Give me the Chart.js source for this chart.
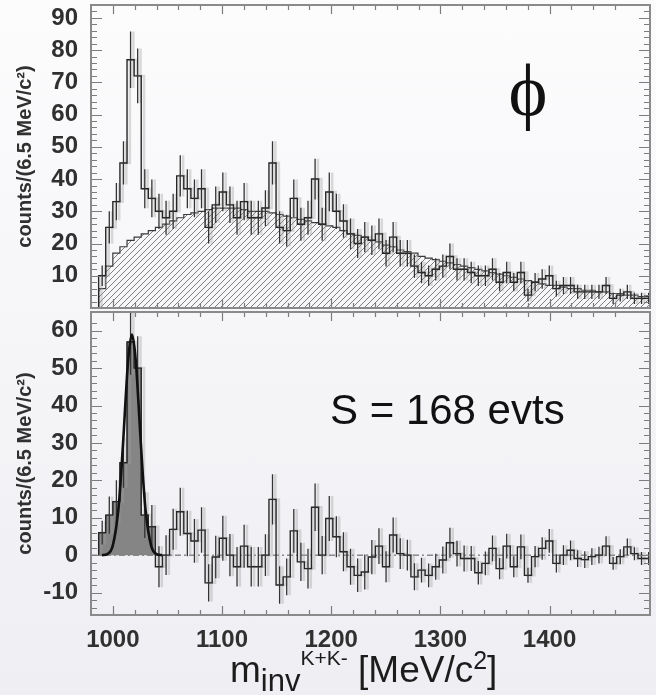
<!DOCTYPE html>
<html>
<head>
<meta charset="utf-8">
<title>K+K- invariant mass</title>
<script src="https://cdn.jsdelivr.net/npm/chart.js@4.4.1/dist/chart.umd.min.js"></script>
<style>
  html, body { margin: 0; padding: 0; }
  body { width: 656px; height: 695px; position: relative; overflow: hidden;
         background: linear-gradient(#fcfcfd 0%, #f4f4f7 60%, #eeeef3 100%); }
  canvas { position: absolute; left: 0; }
  #topChart { top: 0; }
  #botChart { top: 310px; }
  .txt { position: absolute; white-space: nowrap; color: #111; }
  #phi { left: 478px; width: 100px; text-align: center; top: 53px; font: 74px/74px "Liberation Serif", "DejaVu Serif", serif; }
  #sig { left: 330px; top: 389px; font: 42px/42px "Liberation Sans", Arial, sans-serif; }
  #xtitle { left: 230px; top: 651px; font: 37px/37px "Liberation Sans", Arial, sans-serif; color: #1c1c1c; }
  #xtitle .sub { position: relative; top: 9px; font-size: 31px; }
  #xtitle .sup { position: relative; top: -17px; font-size: 21px; }
  #xtitle .sq { position: relative; top: -13px; font-size: 25px; }
</style>
</head>
<body>
<canvas id="topChart" width="656" height="312"></canvas>
<canvas id="botChart" width="656" height="385"></canvas>
<div class="txt" id="phi">ϕ</div>
<div class="txt" id="sig">S = 168 evts</div>
<div class="txt" id="xtitle">m<span class="sub">inv</span><span class="sup">K+K-</span> [MeV/c<span class="sq">2</span>]</div>
<script>
// 6.5 MeV/c2 bins, first one at the K+K- threshold
var binStart = 987;
var binWidth = 6.5;
var xMin = 980, xMax = 1492;
var xTickValues = [1000, 1100, 1200, 1300, 1400];

// upper panel: all K+K- pairs
var countsAll = [10,25,33,45,77,72,37,34,30,28, 30,41,37,34,37,25,32,36,32,28,
                 33,28,28,31,45,25,24,34,26,28, 40,26,36,30,27,23,20,22,21,23,
                 17,22,17,17,13,11,10,12,13,16, 12,12,11,10,10,12,8,11,8,11,
                 4,8,9,10,6,7,7,5,5,5, 5,7,3,4,5,3,3,3];
// upper panel: background (hatched)
var countsBkg = [6,13,17,19,21,22,23,24,25,26, 27,28,29,29.5,30,30.5,31,31,31,31,
                 30.5,30,30,30,29.5,29,28.5,28,27.5,27, 26.5,26,25.5,25,24,23,22.5,22,21,20.5,
                 19.5,19,18,17.5,17,16,15.5,15,14.5,14, 13.5,13,12.5,12,11.5,11,10.5,10,9.5,9,
                 8.5,8,7.5,7,7,6.5,6,6,5.5,5.5, 5,5,4.5,4.5,4,4,3.5,3.5];
// lower panel: background subtracted
var countsSig = [6,10.7,14.3,24.7,57,50,10.7,7.6,-3.1,0, 6.9,11.6,5.8,3.8,6.7,-7.4,-0.5,4.5,0,-3.1,
                 2.4,-3.1,-3.1,0,14.9,-8,-5.8,6.5,-1.8,-3.6, 12.8,0,9.8,4.9,0.9,-3.1,-5.4,-4.5,-0.5,2.4,
                 -3.1,5.4,0.4,0,-5.8,-4,-5.4,-3.1,-1.3,3.3, 0.4,-0.9,-0.9,-4.7,-2.2,1.8,-3.6,2.4,-3.1,2.2,
                 -5.4,-0.4,1.8,3.8,-2.2,0,1.3,-0.9,-1.2,-0.4, 0,2.4,-2.2,-0.4,2.2,0.4,-0.9,-0.9];
var peakBins = 8; // shaded bins under the phi peak

// gaussian fit
var fitMass   = [990, 995, 1000, 1005, 1007.5, 1010, 1013, 1015, 1017.5, 1020, 1022, 1025, 1027.5, 1030, 1035, 1040, 1045];
var fitCounts = [0, 0.3, 2.6, 12, 21.3, 33, 48, 55, 59, 55, 48, 33, 21.3, 12, 2.6, 0.3, 0];

// poisson errors of the raw counts (both panels)
var errAll = countsAll.map(function (v) { return Math.sqrt(v); });

var ghostShift = 2.6; // the scan has a faint grey double image a bit to the right
var ghostColor = 'rgba(160,160,160,0.38)';

function histPts(vals, shift) {
  var pts = [{x: binStart + shift, y: 0}];
  vals.forEach(function (v, i) { pts.push({x: binStart + i * binWidth + shift, y: v}); });
  pts.push({x: binStart + vals.length * binWidth + shift, y: vals[vals.length - 1]});
  return pts;
}
function errPts(vals, errs, shift) {
  var pts = [];
  vals.forEach(function (v, i) {
    var xc = binStart + (i + 0.5) * binWidth + shift;
    pts.push({x: xc, y: v - errs[i]}, {x: xc, y: v + errs[i]}, {x: xc, y: null});
  });
  return pts;
}

function hatchPattern(ctx) {
  var c = document.createElement('canvas');
  c.width = 6; c.height = 6;
  var g = c.getContext('2d');
  g.strokeStyle = '#707070';
  g.lineWidth = 0.9;
  g.beginPath();
  g.moveTo(0, 6); g.lineTo(6, 0);
  g.moveTo(-1, 1); g.lineTo(1, -1);
  g.moveTo(5, 7); g.lineTo(7, 5);
  g.stroke();
  return ctx.createPattern(c, 'repeat');
}

// frame + inside tick marks like the ROOT plot
var frameTicks = {
  id: 'frameTicks',
  afterDraw: function (chart) {
    var ctx = chart.ctx, a = chart.chartArea, x = chart.scales.x, y = chart.scales.y;
    ctx.save();
    ctx.strokeStyle = '#7c7c7c';
    ctx.lineWidth = 1.2;
    ctx.beginPath();
    x.ticks.forEach(function (t) {
      if (t.value % 20 !== 0 || t.value <= xMin) return;
      var px = Math.round(x.getPixelForValue(t.value)) + 0.5;
      var len = t.value % 100 === 0 ? 9 : 5;
      ctx.moveTo(px, a.top); ctx.lineTo(px, a.top + len);
      ctx.moveTo(px, a.bottom); ctx.lineTo(px, a.bottom - len);
    });
    y.ticks.forEach(function (t) {
      if (t.value % 2 !== 0 || t.value <= y.min || t.value >= y.max) return;
      var py = Math.round(y.getPixelForValue(t.value)) + 0.5;
      var len = t.value % 10 === 0 ? 11 : 6;
      ctx.moveTo(a.left, py); ctx.lineTo(a.left + len, py);
      ctx.moveTo(a.right, py); ctx.lineTo(a.right - len, py);
    });
    ctx.stroke();
    ctx.strokeStyle = '#8a8a8a';
    ctx.lineWidth = 2;
    ctx.strokeRect(a.left, a.top, a.right - a.left, a.bottom - a.top);
    ctx.restore();
  }
};

var tickFont = {family: 'Liberation Sans', size: 24, weight: 'bold'};

function panelOptions(yMin, yMax, showZero, xLabels, pad) {
  return {
    responsive: false,
    animation: false,
    devicePixelRatio: 1,
    layout: {padding: pad},
    plugins: {legend: {display: false}, tooltip: {enabled: false}},
    elements: {point: {radius: 0}},
    scales: {
      x: {
        type: 'linear', min: xMin, max: xMax,
        grid: {display: false}, border: {display: false},
        ticks: {
          display: xLabels, stepSize: 20, autoSkip: false, maxRotation: 0, padding: 3,
          color: '#303030', font: tickFont,
          callback: function (v) { return xTickValues.indexOf(v) >= 0 ? v : ''; }
        },
        afterFit: function (s) { s.height = xLabels ? 80 : 0; s.paddingLeft = 0; s.paddingRight = 0; }
      },
      y: {
        min: yMin, max: yMax,
        grid: {display: false}, border: {display: false},
        ticks: {
          stepSize: 2, autoSkip: false, padding: 5, color: '#303030', font: tickFont,
          callback: function (v) { return (v % 10 === 0 && (showZero || v !== 0)) ? v : ''; }
        },
        title: {
          display: true, text: 'counts/(6.5 MeV/c²)', color: '#303030',
          font: {family: 'Liberation Sans', size: 20, weight: 'bold'},
          padding: {top: 13, bottom: 0}
        },
        afterFit: function (s) { s.width = 91; s.paddingTop = 0; s.paddingBottom = 0; }
      }
    }
  };
}

var ctxTop = document.getElementById('topChart').getContext('2d');
var topChart = new Chart(ctxTop, {
  type: 'line',
  data: {
    datasets: [{
      label: 'background',
      data: histPts(countsBkg, 0), stepped: 'before',
      borderColor: '#3a3a3a', borderWidth: 1.2,
      backgroundColor: hatchPattern(ctxTop), fill: 'origin', order: 5
    }, {
      label: 'ghost',
      data: histPts(countsAll, ghostShift), stepped: 'before',
      borderColor: ghostColor, borderWidth: 2.5, fill: false, order: 4
    }, {
      label: 'ghost errors',
      data: errPts(countsAll, errAll, ghostShift), spanGaps: false,
      borderColor: ghostColor, borderWidth: 2.5, fill: false, order: 3
    }, {
      label: 'K+K-',
      data: histPts(countsAll, 0), stepped: 'before',
      borderColor: '#262626', borderWidth: 1.4, fill: false, order: 2
    }, {
      label: 'K+K- errors',
      data: errPts(countsAll, errAll, 0), spanGaps: false,
      borderColor: '#333', borderWidth: 1.3, fill: false, order: 1
    }]
  },
  options: panelOptions(0, 94, false, false, {top: 5, right: 6, bottom: 4, left: 0}),
  plugins: [frameTicks]
});

var ctxBot = document.getElementById('botChart').getContext('2d');
var botChart = new Chart(ctxBot, {
  type: 'line',
  data: {
    datasets: [{
      label: 'zero',
      data: [{x: xMin, y: 0}, {x: xMax, y: 0}],
      borderColor: '#555', borderWidth: 1, borderDash: [6, 3, 2, 3], fill: false, order: 7
    }, {
      label: 'peak',
      data: histPts(countsSig.slice(0, peakBins), 0), stepped: 'before',
      borderColor: '#555', borderWidth: 1, backgroundColor: '#858585', fill: 'origin', order: 6
    }, {
      label: 'ghost',
      data: histPts(countsSig, ghostShift), stepped: 'before',
      borderColor: ghostColor, borderWidth: 2.5, fill: false, order: 5
    }, {
      label: 'ghost errors',
      data: errPts(countsSig, errAll, ghostShift), spanGaps: false,
      borderColor: ghostColor, borderWidth: 2.5, fill: false, order: 4
    }, {
      label: 'signal',
      data: histPts(countsSig, 0), stepped: 'before',
      borderColor: '#262626', borderWidth: 1.4, fill: false, order: 3
    }, {
      label: 'signal errors',
      data: errPts(countsSig, errAll, 0), spanGaps: false,
      borderColor: '#333', borderWidth: 1.3, fill: false, order: 2
    }, {
      label: 'fit',
      data: fitMass.map(function (m, i) { return {x: m, y: fitCounts[i]}; }),
      borderColor: '#111', borderWidth: 2.6, cubicInterpolationMode: 'monotone', fill: false, order: 0
    }]
  },
  options: panelOptions(-16, 65, true, true, {top: 2, right: 6, bottom: 0, left: 0}),
  plugins: [frameTicks]
});
</script>
</body>
</html>
